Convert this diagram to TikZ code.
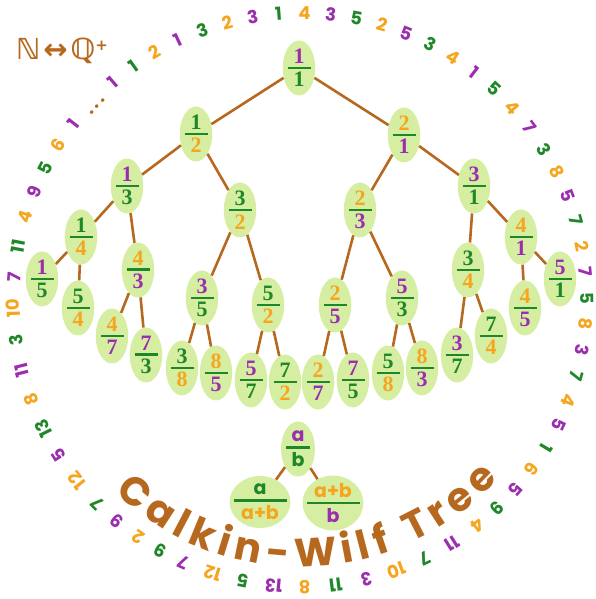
\documentclass[tikz,border=0pt]{standalone}
\usepackage{fontspec}
\usepackage{amssymb}
\usetikzlibrary{shapes.geometric,decorations.text,calc}
\newfontfamily\fracfont{Liberation Serif}
\newfontfamily\poppfont{Poppins}
\newfontfamily\symfont{DejaVu Sans}
\definecolor{cwpurple}{RGB}{155,45,175}
\definecolor{cwgreen}{RGB}{30,135,40}
\definecolor{cworange}{RGB}{245,165,30}
\definecolor{cwbrown}{RGB}{182,104,30}
\definecolor{cwfill}{RGB}{214,238,162}
\colorlet{ringc0}{cwpurple}
\colorlet{ringc1}{cwgreen}
\colorlet{ringc2}{cworange}
\newcommand\cwfr[4]{{\fracfont\bfseries\fontsize{22}{22}\selectfont%
\vbox{\offinterlineskip\halign{\hfil##\hfil\cr%
\textcolor{#2}{#1}\cr\noalign{\kern3pt}%
\textcolor{cwgreen}{\rule{23pt}{2.2pt}}\cr\noalign{\kern3.5pt}%
\textcolor{#4}{#3}\cr}}}}
\newcommand\cwlg[5]{{\poppfont\bfseries\fontsize{19}{19}\selectfont%
\vbox{\offinterlineskip\halign{\hfil##\hfil\cr%
\textcolor{#2}{#1}\cr\noalign{\kern4pt}%
\textcolor{cwgreen}{\rule{#5}{2.4pt}}\cr\noalign{\kern4pt}%
\textcolor{#4}{#3}\cr}}}}
\tikzset{
 tn/.style={ellipse, fill=cwfill, inner sep=0pt, minimum width=31pt, minimum height=55pt},
 edgeln/.style={draw=cwbrown, line width=2.6pt},
 ringnum/.style={font=\poppfont\bfseries\fontsize{18}{18}\selectfont, inner sep=0pt},
}
\begin{document}
\begin{tikzpicture}[x=1pt,y=1pt]
\useasboundingbox (0,0) rectangle (596,599);
\coordinate (O) at (300,299);
% tree nodes
\foreach \kk/\x/\y/\p/\q in {1/299/68/1/1, 2/196/134/1/2, 3/404/135/2/1,
  4/127/186/1/3, 5/240/210/3/2, 6/360/210/2/3, 7/474/186/3/1,
  8/81/237/1/4, 9/138/270/4/3, 10/202/298/3/5, 11/268/305/5/2,
  12/335/305/2/5, 13/402/298/5/3, 14/468/270/3/4, 15/521/237/4/1,
  16/42/279/1/5, 17/78/308/5/4, 18/112/336/4/7, 19/146/355/7/3,
  20/182/368/3/8, 21/216/373/8/5, 22/251/380/5/7, 23/285/382/7/2,
  24/318/382/2/7, 25/353/380/7/5, 26/388/373/5/8, 27/422/368/8/3,
  28/457/355/3/7, 29/491/336/7/4, 30/525/308/4/5, 31/560/279/5/1} {
  \pgfmathtruncatemacro\ca{mod(\kk-1,3)}
  \pgfmathtruncatemacro\cb{mod(\kk,3)}
  \node[tn] (n\kk) at (\x,{599-\y}) {\cwfr{\p}{ringc\ca}{\q}{ringc\cb}};
}
\foreach \kk in {1,...,15} {
  \pgfmathtruncatemacro\lk{2*\kk}
  \pgfmathtruncatemacro\rk{2*\kk+1}
  \draw[edgeln] (n\kk) -- (n\lk);
  \draw[edgeln] (n\kk) -- (n\rk);
}
% number ring
\gdef\ringang{130.8}\gdef\ringprev{0}
\foreach \nn [count=\ii from 0] in {1,1,2,1,3,2,3,1,4,3,5,2,5,3,4,1,5,4,7,3,8,5,7,2,7,5,8,3,7,4,5,1,6,5,9,4,11,7,10,3,11,8,13,5,12,7,9,2,9,7,12,5,13,8,11,3,10,7,11,4,9,5,6,1} {
  \pgfmathsetmacro\rw{\nn>9 ? 1 : 0}
  \ifnum\ii=0 \pgfmathsetmacro\ra{\ringang}\else\pgfmathsetmacro\ra{\ringang-5.216-\ringprev-\rw}\fi
  \xdef\ringang{\ra}\xdef\ringprev{\rw}
  \pgfmathtruncatemacro\rc{mod(\ii,3)}
  \node[ringnum, text=ringc\rc, rotate=\ra-90] at ($(O)+(\ra:287)$) {\nn};
}
\node[ringnum, text=cwbrown, rotate=46.3] (dots) at ($(O)+(136.3:280)$) {.\hspace{3pt}.\hspace{3pt}.};
% title
\path[decorate, decoration={text along path, text align={fit to path},
  text={|\poppfont\bfseries\fontsize{40}{40}\selectfont\color{cwbrown}|Calkin-Wilf Tree}}]
  ($(O)+(-134:267)$) arc[start angle=-134, end angle=-42, radius=267pt];
% N <-> Q+
\node[text=cwbrown, font=\symfont\bfseries\fontsize{29}{29}\selectfont, inner sep=0pt] (nq) at (62,{599-51}) {ℕ\kern3pt↔\kern3ptℚ\raisebox{9pt}{\fontsize{15}{15}\selectfont+}};
% legend
\node[tn] (la) at (298,{599-449}) {\cwlg{a}{cwpurple}{b}{cwgreen}{24pt}};
\node[tn, inner xsep=-5pt, minimum width=60pt, minimum height=52pt] (lb) at (260,{599-502}) {\cwlg{a}{cwgreen}{a+b}{cworange}{53pt}};
\node[tn, inner xsep=-5pt, minimum width=60pt, minimum height=52pt] (lc) at (333,{599-503}) {\cwlg{a+b}{cworange}{b}{cwpurple}{53pt}};
\draw[edgeln] (la) -- (lb);
\draw[edgeln] (la) -- (lc);
\end{tikzpicture}
\end{document}
